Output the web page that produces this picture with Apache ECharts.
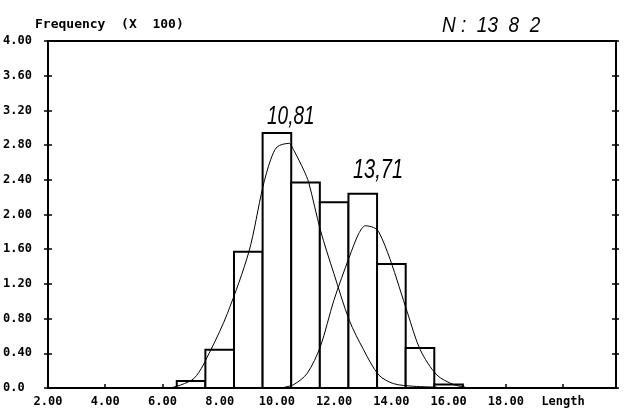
<!DOCTYPE html>
<html>
<head>
<meta charset="utf-8">
<script src="https://cdn.jsdelivr.net/npm/echarts@6/dist/echarts.min.js"></script>
<style>
html,body{margin:0;padding:0;background:#fff;}
#chart{width:625px;height:419px;}
</style>
</head>
<body>
<div id="chart"></div>
<script>
// Histogram bins (Length) and frequencies (x 100)
const binLow  = [6.5, 7.5, 8.5, 9.5, 10.5, 11.5, 12.5, 13.5, 14.5, 15.5];
const binHigh = [7.5, 8.5, 9.5, 10.5, 11.5, 12.5, 13.5, 14.5, 15.5, 16.5];
const frequency = [0.08, 0.44, 1.57, 2.94, 2.37, 2.14, 2.24, 1.43, 0.46, 0.04];

// Fitted curve 1 (mean 10,81)
const curve1X = [6.29, 7.10, 7.69, 8.27, 9.02, 9.51, 9.78, 10.01, 10.42, 10.59, 10.94, 11.11, 11.52, 11.99, 12.53, 13.03, 13.56, 14.08, 14.78, 15.59];
const curve1Y = [0.00, 0.11, 0.44, 0.86, 1.57, 2.32, 2.63, 2.78, 2.82, 2.74, 2.51, 2.37, 1.82, 1.32, 0.78, 0.44, 0.15, 0.05, 0.02, 0.01];

// Fitted curve 2 (mean 13,71)
const curve2X = [10.13, 10.59, 11.06, 11.52, 11.99, 12.53, 12.86, 13.09, 13.38, 13.56, 13.96, 14.57, 15.01, 15.59, 16.17, 16.58];
const curve2Y = [0.00, 0.04, 0.17, 0.48, 1.01, 1.51, 1.78, 1.87, 1.85, 1.80, 1.48, 0.86, 0.44, 0.15, 0.04, 0.01];

const yTickValues = [0, 0.4, 0.8, 1.2, 1.6, 2.0, 2.4, 2.8, 3.2, 3.6, 4.0];
const xTickValues = [2, 4, 6, 8, 10, 12, 14, 16, 18, 20];
const xAxisName = 'Length';
const yAxisTitle = 'Frequency  (X  100)';
const notes = { n: 'N :  13  8  2', m1: '10,81', m2: '13,71' };

const FONT = '"DejaVu Sans Mono", "Liberation Mono", monospace';

const chart = echarts.init(document.getElementById('chart'), null, {renderer: 'canvas'});

function yLabel(v) {
  if (Math.abs(v) < 1e-9) return '0.0';
  const r = Math.round(v * 100) / 100;
  if (yTickValues.some(t => Math.abs(t - r) < 1e-6)) return r.toFixed(2);
  return '';
}
function xLabel(v) {
  const r = Math.round(v * 100) / 100;
  if (!xTickValues.some(t => Math.abs(t - r) < 1e-6)) return '';
  if (Math.abs(r - 20) < 1e-6) return xAxisName;
  return r.toFixed(2);
}

const yBase = {
  type: 'value', min: 0, max: 4, interval: 0.4,
  splitLine: {show: false},
  axisLine: {show: true, lineStyle: {color: '#000', width: 2}}
};

const option = {
  animation: false,
  backgroundColor: '#fff',
  grid: {left: 48, right: 9, top: 41, bottom: 31, show: true, borderColor: '#000', borderWidth: 2, backgroundColor: 'transparent'},
  xAxis: {
    type: 'value', min: 2, max: 21.85, interval: 2,
    splitLine: {show: false},
    axisLine: {show: true, onZero: false, lineStyle: {color: '#000', width: 2}},
    axisTick: {show: true, inside: true, length: 4, lineStyle: {color: '#000', width: 1.5}},
    axisLabel: {formatter: xLabel, color: '#000', fontFamily: FONT, fontWeight: 'bold', fontSize: 12, margin: 8, showMaxLabel: false}
  },
  yAxis: [
    Object.assign({}, yBase, {
      position: 'left',
      axisTick: {show: true, inside: false, length: 4, lineStyle: {color: '#000', width: 1.5}},
      axisLabel: {formatter: yLabel, color: '#000', fontFamily: FONT, fontWeight: 'bold', fontSize: 12, align: 'left', margin: 45}
    }),
    Object.assign({}, yBase, {
      position: 'left',
      axisTick: {show: true, inside: true, length: 4, lineStyle: {color: '#000', width: 1.5}},
      axisLabel: {show: false}
    }),
    Object.assign({}, yBase, {
      position: 'right',
      axisTick: {show: true, inside: true, length: 4, lineStyle: {color: '#000', width: 1.5}},
      axisLabel: {show: false}
    }),
    Object.assign({}, yBase, {
      position: 'right',
      axisTick: {show: true, inside: false, length: 3, lineStyle: {color: '#000', width: 1.5}},
      axisLabel: {show: false}
    })
  ],
  title: {
    text: yAxisTitle, left: 30, top: 13,
    textStyle: {fontFamily: FONT, fontWeight: 'bold', fontSize: 13, color: '#000'}
  },
  graphic: [
    {type: 'text', left: 442, top: 14, scaleY: 1.2, style: {text: notes.n, font: 'italic 19px "Liberation Sans", sans-serif', fill: '#000'}},
    {type: 'text', left: 267, top: 104, scaleY: 1.35, style: {text: notes.m1, font: 'italic 19px "Liberation Sans", sans-serif', fill: '#000'}},
    {type: 'text', left: 353, top: 157, scaleY: 1.35, style: {text: notes.m2, font: 'italic 20px "Liberation Sans", sans-serif', fill: '#000'}}
  ],
  series: [
    {
      type: 'custom',
      yAxisIndex: 0,
      encode: {x: [0, 1], y: 2},
      data: binLow.map((lo, i) => [lo, binHigh[i], frequency[i]]),
      renderItem: function (params, api) {
        const p0 = api.coord([api.value(0), 0]);
        const p1 = api.coord([api.value(1), api.value(2)]);
        return {
          type: 'rect',
          shape: {x: p0[0], y: p1[1], width: p1[0] - p0[0], height: p0[1] - p1[1]},
          style: {fill: '#fff', stroke: '#000', lineWidth: 2}
        };
      },
      z: 2
    },
    {
      type: 'line', yAxisIndex: 0, showSymbol: false, smooth: 0.3,
      data: curve1X.map((x, i) => [x, curve1Y[i]]),
      lineStyle: {color: '#000', width: 1}, z: 3
    },
    {
      type: 'line', yAxisIndex: 0, showSymbol: false, smooth: 0.3,
      data: curve2X.map((x, i) => [x, curve2Y[i]]),
      lineStyle: {color: '#000', width: 1}, z: 3
    }
  ]
};
chart.setOption(option);
</script>
</body>
</html>
